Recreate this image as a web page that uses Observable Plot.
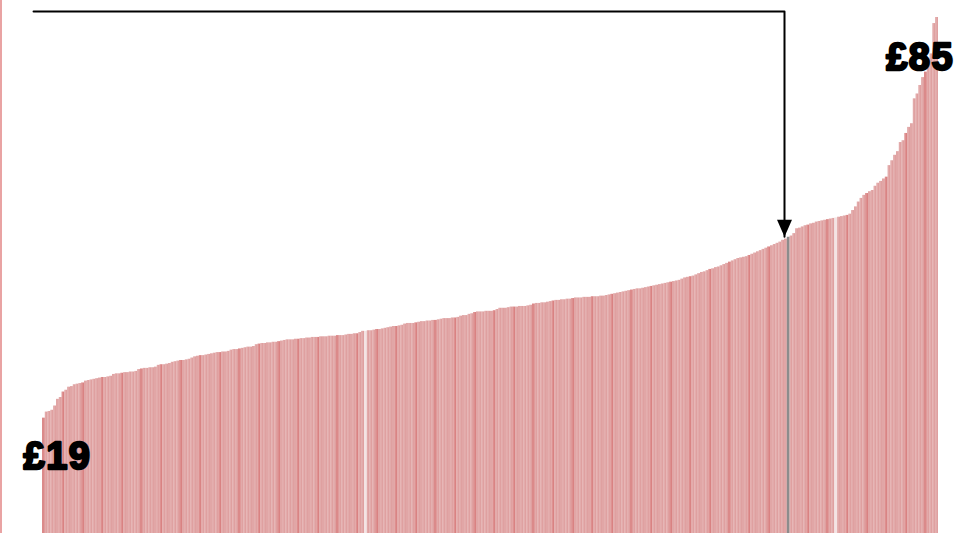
<!DOCTYPE html>
<html>
<head>
<meta charset="utf-8">
<script src="https://cdn.jsdelivr.net/npm/d3@7"></script>
<script src="https://cdn.jsdelivr.net/npm/@observablehq/plot@0.6"></script>
<style>
  html, body { margin: 0; padding: 0; background: #fff; }
  #chart { width: 956px; height: 533px; border-left: 2px solid #e9a3a3; overflow: hidden; }
  #chart svg { display: block; }
  #chart text { letter-spacing: 1.5px; }
</style>
</head>
<body>
<div id="chart"></div>
<script>
// Sorted values (£), one per bar
const values = [
  19.0, 20.0, 20.1, 20.3, 21.0, 22.1, 22.4, 23.3, 23.6, 24.1,
  24.2, 24.5, 24.6, 24.7, 24.8, 25.1, 25.2, 25.3, 25.4, 25.5,
  25.6, 25.7, 25.7, 25.8, 25.9, 26.2, 26.3, 26.3, 26.4, 26.5,
  26.5, 26.6, 26.6, 26.7, 27.0, 27.1, 27.2, 27.2, 27.3, 27.3,
  27.4, 27.7, 27.8, 27.8, 27.9, 28.0, 28.2, 28.3, 28.4, 28.5,
  28.5, 28.6, 28.7, 28.9, 29.1, 29.2, 29.3, 29.3, 29.4, 29.5,
  29.6, 29.7, 29.8, 29.8, 29.9, 29.9, 30.0, 30.2, 30.3, 30.3,
  30.4, 30.5, 30.6, 30.7, 30.7, 30.8, 31.1, 31.2, 31.3, 31.3,
  31.4, 31.4, 31.5, 31.5, 31.6, 31.7, 31.8, 31.9, 31.9, 31.9,
  32.0, 32.0, 32.1, 32.1, 32.2, 32.2, 32.3, 32.3, 32.3, 32.4,
  32.4, 32.4, 32.5, 32.5, 32.5, 32.6, 32.6, 32.6, 32.7, 32.8,
  32.8, 32.9, 32.9, 33.1, 33.3, 33.3, 33.4, 33.4, 33.5, 33.6,
  33.6, 33.7, 33.8, 33.9, 34.0, 34.1, 34.1, 34.2, 34.3, 34.5,
  34.6, 34.6, 34.6, 34.7, 34.8, 34.9, 34.9, 35.0, 35.0, 35.1,
  35.1, 35.2, 35.3, 35.4, 35.4, 35.4, 35.5, 35.5, 35.6, 35.8,
  35.9, 35.9, 36.1, 36.2, 36.4, 36.5, 36.5, 36.5, 36.6, 36.6,
  36.6, 36.7, 36.9, 37.1, 37.1, 37.1, 37.2, 37.3, 37.3, 37.3,
  37.4, 37.4, 37.4, 37.5, 37.6, 37.8, 37.9, 37.9, 38.0, 38.0,
  38.1, 38.2, 38.3, 38.4, 38.4, 38.5, 38.5, 38.6, 38.6, 38.7,
  38.8, 38.8, 38.8, 38.9, 38.9, 38.9, 39.0, 39.0, 39.0, 39.1,
  39.1, 39.2, 39.3, 39.4, 39.5, 39.6, 39.7, 39.8, 39.9, 40.0,
  40.1, 40.2, 40.3, 40.3, 40.4, 40.5, 40.6, 40.7, 40.8, 40.9,
  41.0, 41.1, 41.2, 41.3, 41.4, 41.5, 41.6, 41.7, 41.9, 42.1,
  42.2, 42.3, 42.4, 42.6, 42.8, 43.0, 43.1, 43.3, 43.5, 43.6,
  43.8, 43.9, 44.1, 44.3, 44.5, 44.7, 44.9, 45.1, 45.3, 45.4,
  45.5, 45.6, 45.8, 46.0, 46.2, 46.4, 46.6, 46.8, 47.0, 47.2,
  47.4, 47.6, 47.8, 48.0, 48.3, 48.5, 48.8, 49.0, 49.4, 50.2,
  50.3, 50.5, 50.7, 50.8, 51.0, 51.1, 51.3, 51.4, 51.5, 51.6,
  51.7, 51.8, 51.9, 52.0, 52.1, 52.2, 52.3, 52.4, 52.6, 53.2,
  53.8, 54.6, 55.2, 55.7, 56.0, 56.3, 56.5, 57.2, 57.7, 58.0,
  58.4, 58.7, 60.6, 61.4, 62.3, 62.9, 64.4, 64.7, 65.9, 66.9,
  67.5, 71.6, 72.4, 73.8, 75.1, 76.0, 78.0, 79.0, 84.0, 85.0
];
const highlightBars = [266];      // grey bar pointed at by the arrow
const paleBars = [115, 283];      // pale (near-white) bars
// arrow path in data units (bar index, £)
const arrowX = [-3.2, 265, 265];
const arrowY = [86, 86, 48.9];

const table = values.map((v, i) => ({
  i, v,
  kind: highlightBars.includes(i) ? "hi" : paleBars.includes(i) ? "pale" : (i % 7 === 0 ? "dark" : "bar")
}));
const colors = {bar: "#dfa0a0", dark: "#d98282", hi: "#8c8c8c", pale: "#f4e4e4"};
const arrowPts = arrowX.map((x, k) => ({x, y: arrowY[k]}));
const first = table[0];
const last = table[table.length - 1];

const downTriangle = {
  draw(context) {
    context.moveTo(-7.5, -17);
    context.lineTo(7.5, -17);
    context.lineTo(0, 0);
    context.closePath();
  }
};

const labelStyle = {
  text: d => `£${Math.round(d.v)}`,
  fontSize: 38,
  fontWeight: "bold",
  fontFamily: "Liberation Sans, Arial, sans-serif",
  fill: "#000",
  stroke: "#000",
  strokeWidth: 2.4
};

const chart = Plot.plot({
  width: 956,
  height: 533,
  marginLeft: 40,
  marginRight: 20,
  marginTop: 17,
  marginBottom: 0,
  x: {domain: [0, values.length], axis: null},
  y: {domain: [0, 85], axis: null},
  color: {type: "identity"},
  marks: [
    Plot.rectY(table, {
      x1: "i",
      x2: d => d.i + 1,
      y: "v",
      fill: d => colors[d.kind]
    }),
    Plot.rectY(table.filter(d => d.kind === "bar" || d.kind === "dark"), {
      x1: "i",
      x2: d => d.i + 1,
      y: "v",
      fill: "#fff",
      fillOpacity: 0.22,
      insetLeft: 0.7,
      insetRight: 1.5
    }),
    Plot.line(arrowPts, {x: "x", y: "y", stroke: "#000", strokeWidth: 2}),
    Plot.dot([arrowPts[arrowPts.length - 1]], {x: "x", y: "y", symbol: downTriangle, fill: "#000", stroke: "none"}),
    Plot.text([first], {x: d => d.i, y: "v", dx: 15, dy: 39, ...labelStyle}),
    Plot.text([last], {x: d => d.i + 0.5, y: "v", dx: -17, dy: 40, ...labelStyle})
  ]
});
document.getElementById("chart").appendChild(chart);
</script>
</body>
</html>
